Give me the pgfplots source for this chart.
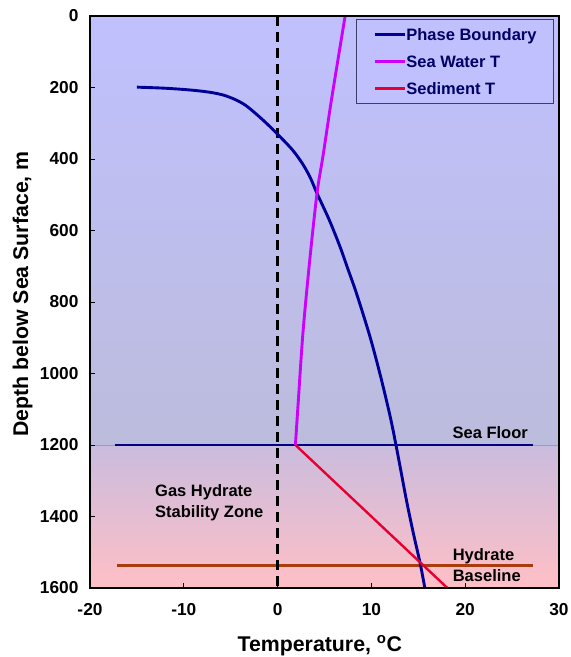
\documentclass[border=0pt]{standalone}
\usepackage{fontspec}
\setmainfont{Liberation Sans}
\usepackage{pgfplots}
\pgfplotsset{compat=1.18}
\definecolor{bgA}{RGB}{192,192,255}
\definecolor{bgB}{RGB}{188,188,220}
\definecolor{bgC}{RGB}{202,188,222}
\definecolor{bgD}{RGB}{255,191,198}
\definecolor{line1200}{RGB}{153,153,204}
\definecolor{phasec}{RGB}{0,0,153}
\definecolor{waterc}{RGB}{204,0,255}
\definecolor{sedc}{RGB}{230,0,50}
\definecolor{floorc}{RGB}{0,0,128}
\definecolor{basec}{RGB}{168,60,12}
\definecolor{legdraw}{RGB}{60,60,100}
\definecolor{legtext}{RGB}{0,0,102}
\begin{document}
\begin{tikzpicture}
\begin{axis}[
  at={(0pt,0pt)}, anchor=south west,
  scale only axis, width=469pt, height=572pt,
  xmin=-20, xmax=30, ymin=0, ymax=1600, y dir=reverse,
  xtick={-20,-10,0,10,20,30}, xticklabels={-20,-10,0,10,20,30},
  ytick={0,200,400,600,800,1000,1200,1400,1600},
  /pgf/number format/assume math mode=true,
  /pgf/number format/set thousands separator={},
  ticklabel style={font=\fontsize{17.3}{20}\selectfont\bfseries},
  yticklabel style={xshift=-8pt},
  xticklabel style={yshift=-12pt},
  tick align=inside, xtick pos=bottom, ytick pos=left,
  major tick length=5pt,
  tick style={black, line width=1pt},
  axis line style={black, line width=2pt},
  axis on top,
  xlabel={Temperature, \textsuperscript{o}C},
  ylabel={Depth below Sea Surface, m},
  label style={font=\fontsize{21.3}{24}\selectfont\bfseries},
  xlabel style={at={(axis description cs:0.49,-0.111)}, anchor=base},
  ylabel style={at={(axis description cs:-0.132,0.514)}, anchor=base},
  legend style={
    at={(0.9893,0.9948)}, anchor=north east,
    fill=bgA, draw=legdraw, line width=0.8pt,
    font=\fontsize{16.5}{20}\selectfont\bfseries,
    text=legtext,
    inner xsep=17pt, inner ysep=8pt,
    row sep=13pt,
    nodes={inner sep=0pt, text height=13pt, text depth=1pt},
    /tikz/every even column/.append style={column sep=5.7pt},
  },
  legend cell align=left,
  legend image code/.code={\draw[#1, line width=2.7pt] (0pt,0pt) -- (30pt,0pt);},
]
\fill[top color=bgA, bottom color=bgB] (axis cs:-20,0) rectangle (axis cs:30,1200);
\fill[top color=bgC, bottom color=bgD] (axis cs:-20,1200) rectangle (axis cs:30,1600);
\draw[line1200, line width=1pt] (axis cs:-20,1200) -- (axis cs:30,1200);

\addplot[forget plot, floorc, line width=2.5pt] coordinates {(-17.3,1200) (27.2,1200)};
\addplot[forget plot, basec, line width=2.8pt] coordinates {(-17.1,1536) (27.2,1536)};
\addplot[forget plot, black, line width=3pt, dash pattern=on 10pt off 6pt] coordinates {(0,0) (0,1600)};

\addplot[phasec, line width=2.9pt, smooth, tension=0.5] coordinates {
(-15.0,199) (-12.0,202) (-9.3,207) (-7.3,213) (-5.8,221) (-4.5,234) (-3.3,252) (-1.6,290) (-0.1,328) (1.6,375) (2.7,415) (3.5,453) (4.2,496) (5.5,570) (6.65,645) (7.5,708) (8.4,775) (9.85,897) (11.0,1010) (12.0,1120) (12.6,1197) (13.2,1280) (13.8,1363) (14.5,1450) (15.2,1531) (15.7,1600)};
\addlegendentry{Phase Boundary}
\addplot[waterc, line width=2.9pt, smooth, tension=0.5] coordinates {
(7.2,0) (6.45,120) (5.65,250) (4.85,390) (4.2,496) (3.4,690) (2.7,887) (2.2,1080) (1.9,1200)};
\addlegendentry{Sea Water T}
\addplot[sedc, line width=2.4pt] coordinates {(1.9,1200) (18.1,1600)};
\addlegendentry{Sediment T}

\node[anchor=east, inner sep=0pt, font=\fontsize{16.5}{20}\selectfont\bfseries] at (axis cs:26.7,1164) {Sea Floor};
\node[anchor=west, align=left, inner sep=0pt, font=\fontsize{16.5}{21.5}\selectfont\bfseries] at (axis cs:18.66,1536) {Hydrate\\Baseline};
\node[anchor=west, align=left, inner sep=0pt, font=\fontsize{16.5}{21}\selectfont\bfseries] at (axis cs:-13.07,1362) {Gas Hydrate\\Stability Zone};
\end{axis}
\pgfresetboundingbox
\path (-90pt,-69pt) rectangle (481pt,588pt);
\end{tikzpicture}
\end{document}
